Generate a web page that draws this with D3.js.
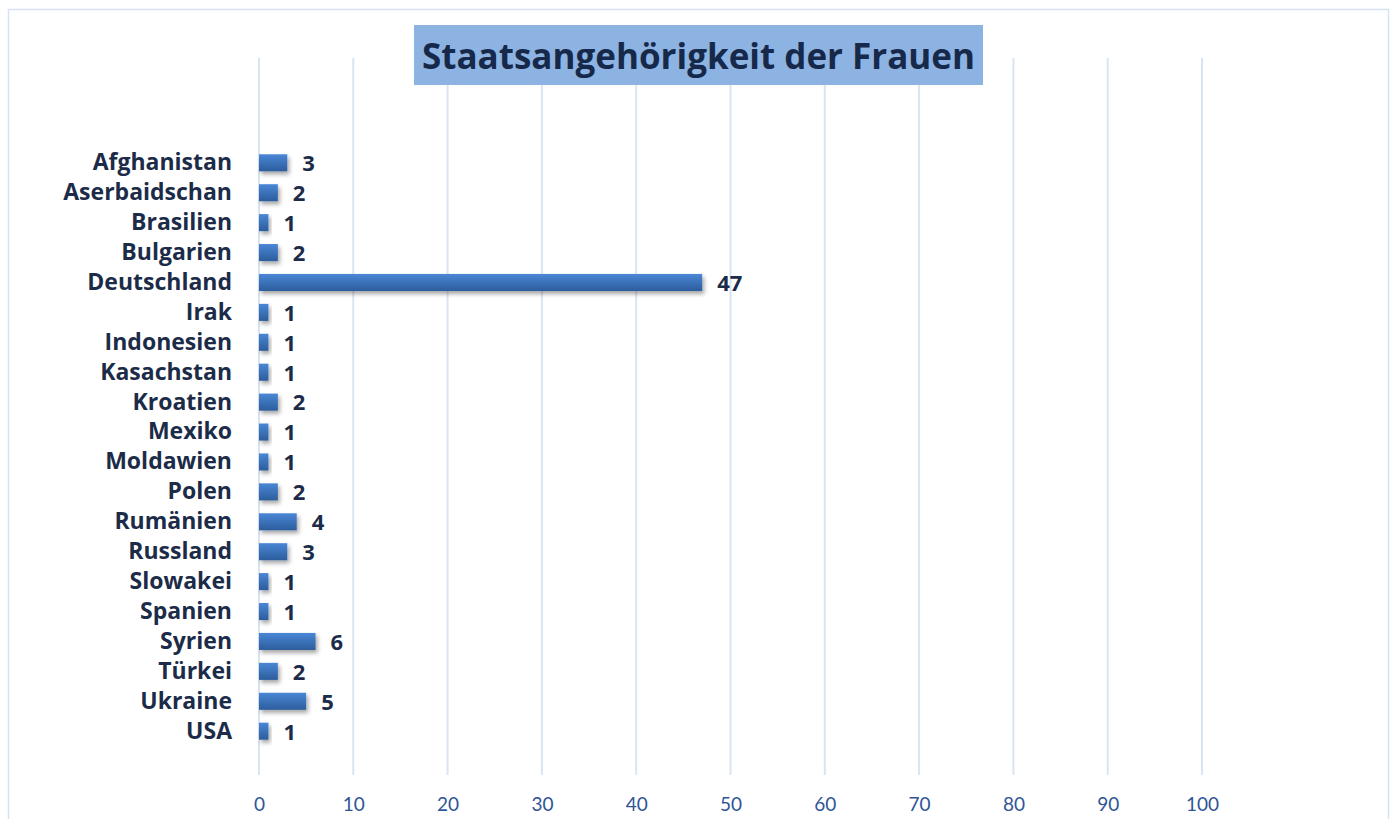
<!DOCTYPE html>
<html><head><meta charset="utf-8">
<script src="https://cdn.jsdelivr.net/npm/d3@7"></script>
<style>body{margin:0;background:#fff;}svg{display:block;}</style>
</head><body>
<svg id="c" width="1394" height="819"></svg>
<script>
const categories = ["Afghanistan","Aserbaidschan","Brasilien","Bulgarien","Deutschland","Irak","Indonesien","Kasachstan","Kroatien","Mexiko","Moldawien","Polen","Rumänien","Russland","Slowakei","Spanien","Syrien","Türkei","Ukraine","USA"];
const values = [3,2,1,2,47,1,1,1,2,1,1,2,4,3,1,1,6,2,5,1];
const tickValues = [0,10,20,30,40,50,60,70,80,90,100];
const title = "Staatsangehörigkeit der Frauen";

const svg = d3.select("#c");
const font = "'Open Sans', sans-serif";
const tickFont = "Lato, sans-serif";
const defs = svg.append("defs");
const g1 = defs.append("linearGradient").attr("id","bg").attr("x1",0).attr("y1",0).attr("x2",0).attr("y2",1);
g1.append("stop").attr("offset","0%").attr("stop-color","#4a87d6");
g1.append("stop").attr("offset","100%").attr("stop-color","#2c5d9c");
const f = defs.append("filter").attr("id","sh").attr("x","-20%").attr("y","-50%").attr("width","150%").attr("height","250%");
f.append("feDropShadow").attr("dx",2).attr("dy",3).attr("stdDeviation",2).attr("flood-color","#000").attr("flood-opacity",0.35);

// chart border
svg.append("rect").attr("x",8.5).attr("y",9.5).attr("width",1380).attr("height",830)
  .attr("fill","#fff").attr("stroke","#d6e2f2").attr("stroke-width",1.5);

const x = d3.scaleLinear().domain([0,100]).range([259,1202]);
const y = d3.scaleBand().domain(categories).range([148,746]).paddingInner(0.43).paddingOuter(0.21);

// gridlines
svg.append("g").selectAll("line").data(tickValues).join("line")
  .attr("x1",d=>x(d)).attr("x2",d=>x(d)).attr("y1",58).attr("y2",775)
  .attr("stroke","#d9e4f3").attr("stroke-width",2);

// x axis labels
const xa = svg.append("g").attr("transform","translate(0,775)")
  .call(d3.axisBottom(x).tickValues(tickValues).tickSize(0).tickPadding(23));
xa.select(".domain").remove();
xa.selectAll("text").attr("fill","#2f5597").attr("font-size",19).attr("font-family",tickFont);

// y axis labels
const ya = svg.append("g").attr("transform","translate(259,0)")
  .call(d3.axisLeft(y).tickSize(0).tickPadding(27));
ya.select(".domain").remove();
ya.selectAll("text").attr("fill","#1c2c48").attr("font-size",23).attr("font-weight","bold").attr("font-family",font);

// bars
svg.append("g").selectAll("rect").data(categories).join("rect")
  .attr("x",x(0)).attr("y",c=>y(c)).attr("width",(c,i)=>x(values[i])-x(0)).attr("height",y.bandwidth())
  .attr("fill","url(#bg)").attr("filter","url(#sh)");

// value labels
svg.append("g").selectAll("text").data(categories).join("text")
  .attr("x",(c,i)=>x(values[i])+15).attr("y",c=>y(c)+y.bandwidth()/2).attr("dy","0.38em")
  .attr("fill","#1c2c48").attr("font-size",22).attr("font-weight","bold").attr("font-family",font)
  .text((c,i)=>values[i]);

// title
svg.append("rect").attr("x",414).attr("y",25).attr("width",569).attr("height",60).attr("fill","#8db3e2");
svg.append("text").attr("x",698.5).attr("y",56).attr("dy","0.36em").attr("text-anchor","middle")
  .attr("fill","#17294a").attr("font-size",35).attr("font-weight","bold").attr("font-family",font).text(title);
</script>
</body></html>
